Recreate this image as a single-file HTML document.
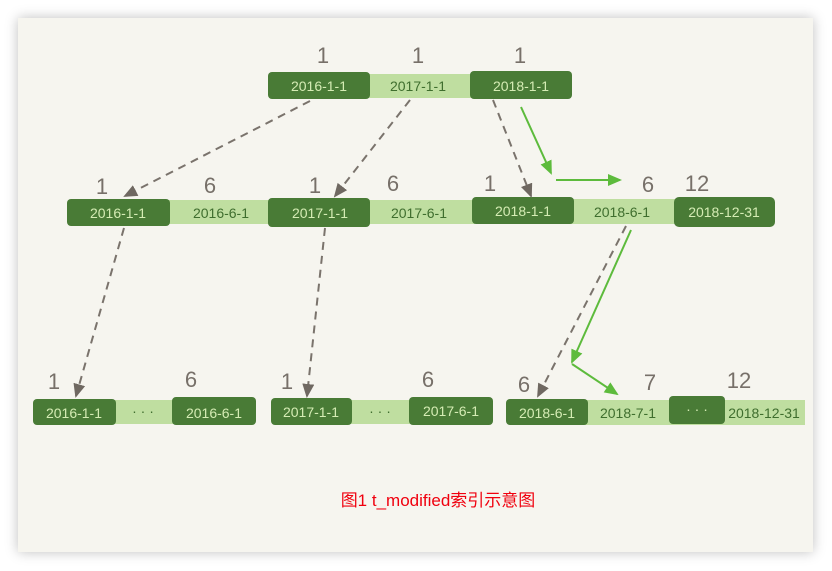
<!DOCTYPE html>
<html><head><meta charset="utf-8"><style>
html,body{margin:0;padding:0;background:#fff;width:832px;height:571px;overflow:hidden}
.card{position:absolute;left:18px;top:18px;width:795px;height:534px;background:#f6f5ef;box-shadow:0 0 12px rgba(0,0,0,0.25)}
svg{position:absolute;left:0;top:0}
.d{fill:#497b36}.l{fill:#bfdea0}
.td{fill:#d5ecb4;font-family:"Liberation Sans",sans-serif;font-size:14px;text-anchor:middle}
.tl{fill:#3f6e2e;font-family:"Liberation Sans",sans-serif;font-size:14px;text-anchor:middle}
.n{fill:#777069;font-family:"Liberation Sans",sans-serif;font-size:22px;text-anchor:middle}
.g{stroke:#7a736c;stroke-width:2;stroke-dasharray:8 6;fill:none}
.gr{stroke:#5dbb3c;stroke-width:2;fill:none}
</style></head><body>
<div class="card"></div>
<svg width="832" height="571" viewBox="0 0 832 571">
<defs>
<marker id="ac" markerWidth="14" markerHeight="12" refX="12" refY="6" orient="auto" markerUnits="userSpaceOnUse"><path d="M0,0 L14,6 L0,12 z" fill="#5dbb3c"/></marker>
<marker id="ad" markerWidth="14" markerHeight="12" refX="12" refY="6" orient="auto" markerUnits="userSpaceOnUse"><path d="M0,0 L14,6 L0,12 z" fill="#6f6861"/></marker>
</defs>
<!-- top row -->
<rect class="l" x="360" y="74" width="120" height="24"/>
<rect class="d" x="268" y="72" width="102" height="27" rx="4"/>
<rect class="d" x="470" y="71" width="102" height="28" rx="4"/>
<text class="td" x="319" y="91">2016-1-1</text>
<text class="tl" x="418" y="91">2017-1-1</text>
<text class="td" x="521" y="91">2018-1-1</text>
<text class="n" x="323" y="63">1</text><text class="n" x="418" y="63">1</text><text class="n" x="520" y="63">1</text>
<!-- middle row -->
<rect class="l" x="160" y="200" width="115" height="24"/>
<rect class="l" x="360" y="200" width="115" height="24"/>
<rect class="l" x="565" y="199" width="115" height="25"/>
<rect class="d" x="67" y="199" width="103" height="27" rx="4"/>
<rect class="d" x="268" y="198" width="102" height="29" rx="4"/>
<rect class="d" x="472" y="197" width="102" height="27" rx="4"/>
<rect class="d" x="674" y="197" width="101" height="30" rx="5"/>
<text class="td" x="118" y="218">2016-1-1</text>
<text class="tl" x="221" y="218">2016-6-1</text>
<text class="td" x="320" y="218">2017-1-1</text>
<text class="tl" x="419" y="218">2017-6-1</text>
<text class="td" x="523" y="216">2018-1-1</text>
<text class="tl" x="622" y="217">2018-6-1</text>
<text class="td" x="724" y="217">2018-12-31</text>
<text class="n" x="102" y="194">1</text><text class="n" x="210" y="193">6</text>
<text class="n" x="315" y="193">1</text><text class="n" x="393" y="191">6</text>
<text class="n" x="490" y="191">1</text><text class="n" x="648" y="192">6</text><text class="n" x="697" y="191">12</text>
<!-- bottom row -->
<rect class="l" x="105" y="400" width="75" height="24"/>
<rect class="l" x="345" y="400" width="70" height="24"/>
<rect class="l" x="580" y="400" width="225" height="25"/>
<rect class="d" x="33" y="399" width="83" height="26" rx="4"/>
<rect class="d" x="172" y="397" width="84" height="28" rx="4"/>
<rect class="d" x="271" y="398" width="81" height="27" rx="4"/>
<rect class="d" x="409" y="397" width="84" height="28" rx="4"/>
<rect class="d" x="506" y="399" width="82" height="26" rx="4"/>
<rect class="d" x="669" y="396" width="56" height="28" rx="4"/>
<text class="td" x="74" y="418">2016-1-1</text>
<text class="tl" x="143" y="416">· · ·</text>
<text class="td" x="214" y="418">2016-6-1</text>
<text class="td" x="311" y="417">2017-1-1</text>
<text class="tl" x="380" y="416">· · ·</text>
<text class="td" x="451" y="416">2017-6-1</text>
<text class="td" x="547" y="418">2018-6-1</text>
<text class="tl" x="628" y="418">2018-7-1</text>
<text class="td" x="697" y="414">· · ·</text>
<text class="tl" x="764" y="418">2018-12-31</text>
<text class="n" x="54" y="389">1</text><text class="n" x="191" y="387">6</text>
<text class="n" x="287" y="389">1</text><text class="n" x="428" y="387">6</text>
<text class="n" x="524" y="392">6</text><text class="n" x="650" y="390">7</text><text class="n" x="739" y="388">12</text>
<!-- grey dashed -->
<path class="g" d="M310,101 L125,196" marker-end="url(#ad)"/>
<path class="g" d="M410,100 L335,196" marker-end="url(#ad)"/>
<path class="g" d="M493,100 L531,196" marker-end="url(#ad)"/>
<path class="g" d="M124,228 L76,396" marker-end="url(#ad)"/>
<path class="g" d="M325,228 L307,396" marker-end="url(#ad)"/>
<path class="g" d="M626,226 L538,396" marker-end="url(#ad)"/>
<!-- green -->
<path class="gr" d="M521,107 L551,173" marker-end="url(#ac)"/>
<path class="gr" d="M556,180 L620,180" marker-end="url(#ac)"/>
<path class="gr" d="M631,230 L572,362" marker-end="url(#ac)"/>
<path class="gr" d="M572,364 L617,394" marker-end="url(#ac)"/>
<text x="438" y="506" fill="#f0000e" font-family="'Liberation Sans','Noto Sans CJK SC',sans-serif" font-size="17" text-anchor="middle">图1 t_modified索引示意图</text>
</svg>
</body></html>
